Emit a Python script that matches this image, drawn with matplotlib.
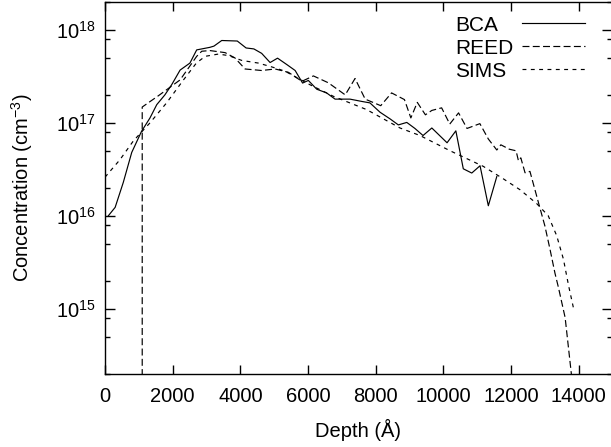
import matplotlib
matplotlib.use("Agg")
import matplotlib.pyplot as plt
from matplotlib.lines import Line2D
from matplotlib.ticker import LogLocator, FixedLocator, NullFormatter

plt.rcParams['font.family'] = ['Liberation Sans', 'DejaVu Sans']
plt.rcParams['mathtext.fontset'] = 'custom'
plt.rcParams['mathtext.rm'] = 'Liberation Sans'
plt.rcParams['mathtext.it'] = 'Liberation Sans:italic'
plt.rcParams['lines.scale_dashes'] = False

# ---- data ----
bca_x = [100, 300, 540, 790, 1080, 1330, 1530, 1770, 1970, 2220, 2510, 2710,
         3100, 3220, 3450, 3910, 4170, 4400, 4630, 4880, 5100, 5390, 5620,
         5840, 6010, 6260, 6550, 6800, 7240, 7590, 7830, 8130, 8430, 8670,
         8920, 9160, 9400, 9660, 10110, 10370, 10590, 10840, 11085, 11330, 11580]
bca_y = [1.0e16, 1.23e16, 2.28e16, 4.8e16, 8.1e16, 1.13e17, 1.57e17, 2.0e17,
         2.57e17, 3.7e17, 4.4e17, 6.1e17, 6.5e17, 6.7e17, 7.7e17, 7.6e17,
         6.4e17, 6.25e17, 5.6e17, 4.46e17, 4.97e17, 4.2e17, 3.66e17, 2.68e17,
         2.86e17, 2.3e17, 2.1e17, 1.8e17, 1.8e17, 1.7e17, 1.64e17, 1.3e17,
         1.1e17, 9.5e16, 1.01e17, 8.7e16, 7.3e16, 8.8e16, 6.1e16, 8.2e16,
         3.2e16, 2.88e16, 3.45e16, 1.28e16, 2.64e16]

reed_x = [1100, 1100, 1580, 2220, 2710, 2860, 3100, 3550, 3840, 4140, 4630,
          5030, 5420, 5820, 6160, 6600, 7100, 7390, 7690, 8150, 8470, 8850,
          9040, 9230, 9470, 9660, 9950, 10190, 10450, 10700, 11080, 11330,
          11580, 11700, 11950, 12150, 12220, 12290, 12415, 12560, 12810,
          13000, 13150, 13300, 13400, 13600, 13850]
reed_y = [1e10, 1.48e17, 1.96e17, 2.9e17, 5.2e17, 5.9e17, 6.0e17, 5.7e17,
          5.0e17, 3.8e17, 3.66e17, 3.8e17, 3.5e17, 2.8e17, 3.2e17, 2.7e17,
          2.0e17, 3.0e17, 1.8e17, 1.53e17, 2.1e17, 1.78e17, 1.13e17, 1.66e17,
          1.22e17, 1.36e17, 1.45e17, 9.7e16, 1.28e17, 8.7e16, 9.8e16, 6.7e16,
          5.1e16, 5.8e16, 5.2e16, 5.0e16, 3.9e16, 4.2e16, 2.9e16, 3.0e16,
          1.39e16, 7.8e15, 4.4e15, 2.4e15, 1.7e15, 8e14, 1.2e14]

sims_x = [0, 440, 840, 1330, 1820, 2320, 2700, 2960, 3350, 3650, 4040, 4530,
          4930, 5320, 5720, 6060, 6750, 7730, 8720, 9310, 10200, 11180, 11770,
          12270, 12760, 13100, 13350, 13550, 13700, 13850]
sims_y = [2.6e16, 4.0e16, 6.4e16, 1.0e17, 1.64e17, 2.9e17, 4.4e17, 5.2e17,
          5.5e17, 5.3e17, 4.7e17, 4.4e17, 4.0e17, 3.6e17, 3.0e17, 2.57e17,
          1.93e17, 1.39e17, 8.8e16, 7.3e16, 5.0e16, 3.4e16, 2.5e16, 1.9e16,
          1.35e16, 1.0e16, 6.1e15, 3.4e15, 1.78e15, 1.0e15]

series_names = ["BCA", "REED", "SIMS"]
x_ticks = [0, 2000, 4000, 6000, 8000, 10000, 12000, 14000]

W, H = 611, 447
fig = plt.figure(figsize=(W / 100, H / 100), dpi=100)
L, R, T, B = 105, 612.5, 2, 373.5
ax = fig.add_axes([L / W, (H - B) / H, (R - L) / W, (B - T) / H])

lw = 0.85
styles = [dict(color='black', lw=lw, linestyle='-'),
          dict(color='black', lw=lw, linestyle=(0, (5.0, 2.4))),
          dict(color='black', lw=lw, linestyle=(0, (2.8, 3.2)))]

ax.plot(bca_x, bca_y, **styles[0])
ax.plot(reed_x, reed_y, **styles[1])
ax.plot(sims_x, sims_y, **styles[2])

ax.set_yscale('log')
ax.set_xlim(0, 15000)
ax.set_ylim(2e14, 2e18)

ax.xaxis.set_major_locator(FixedLocator(x_ticks))
ax.yaxis.set_major_locator(LogLocator(base=10, numticks=10))
ax.yaxis.set_minor_locator(LogLocator(base=10, subs=(2.0, 5.0, 8.0), numticks=10))
ax.yaxis.set_minor_formatter(NullFormatter())

fs = 14.5
ax.tick_params(axis='both', which='both', direction='in', top=True, right=True,
               labelsize=fs, width=1.0, color='black')
ax.tick_params(axis='x', which='major', length=6.5, pad=10)
ax.tick_params(axis='y', which='major', length=7, pad=7)
ax.tick_params(axis='y', which='minor', length=3.5)
for s in ax.spines.values():
    s.set_linewidth(1.0)

ax.set_xlabel("Depth (Å)", fontsize=fs, va='center')
ax.xaxis.set_label_coords((358 - L) / (R - L), -(430 - B) / (B - T))
ax.set_ylabel("Concentration (cm$^{-3}$)", fontsize=fs, va='center', ha='center')
ax.yaxis.set_label_coords((22 - L) / (R - L), 0.5)

# manual key: text left-aligned, sample line on the right
base_y = [31, 54, 77]
line_y = [23.3, 46, 69.3]
for name, by, ly, st in zip(series_names, base_y, line_y, styles):
    fig.text(455 / W, 1 - by / H, name, fontsize=fs + 0.5, ha='left', va='baseline')
    fig.add_artist(Line2D([522 / W, 585 / W], [1 - ly / H, 1 - ly / H],
                          transform=fig.transFigure, **st))

fig.savefig("out.png", dpi=100)
